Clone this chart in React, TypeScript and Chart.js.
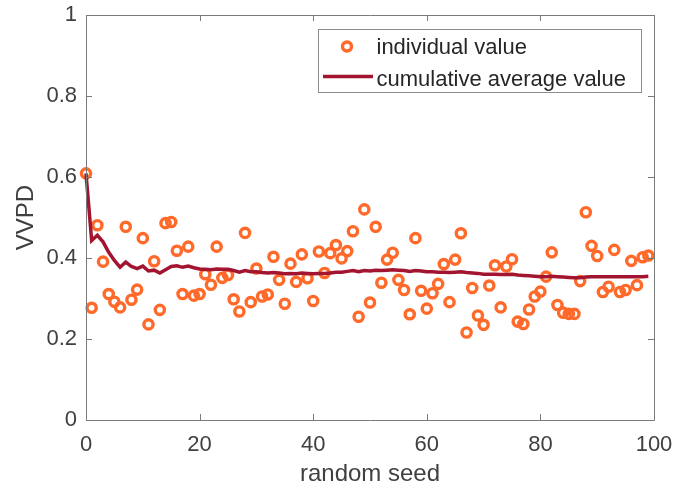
import React, { useEffect, useRef } from "react";
import { Chart, registerables } from "chart.js";

Chart.register(...registerables);

const xTickValues = [0, 20, 40, 60, 80, 100];
const yTickValues = [0, 0.2, 0.4, 0.6, 0.8, 1];
const xTitle = "random seed";
const yTitle = "VVPD";
const legendLabels = ["individual value", "cumulative average value"];

const individualValue = [
  0.609, 0.277, 0.481, 0.391, 0.311, 0.292, 0.278, 0.477, 0.297, 0.322,
  0.449, 0.236, 0.392, 0.272, 0.486, 0.489, 0.418, 0.311, 0.428, 0.307,
  0.311, 0.360, 0.334, 0.428, 0.351, 0.358, 0.298, 0.268, 0.462, 0.291,
  0.374, 0.305, 0.310, 0.403, 0.346, 0.287, 0.386, 0.341, 0.409, 0.350,
  0.294, 0.416, 0.363, 0.412, 0.432, 0.399, 0.417, 0.466, 0.255, 0.520,
  0.290, 0.477, 0.339, 0.396, 0.413, 0.346, 0.321, 0.261, 0.449, 0.319,
  0.275, 0.313, 0.336, 0.385, 0.291, 0.396, 0.461, 0.216, 0.326, 0.258,
  0.235, 0.332, 0.382, 0.278, 0.379, 0.397, 0.243, 0.237, 0.273, 0.305,
  0.317, 0.354, 0.414, 0.284, 0.265, 0.262, 0.262, 0.343, 0.513, 0.430,
  0.405, 0.316, 0.329, 0.420, 0.316, 0.321, 0.393, 0.333, 0.402, 0.406,
];

const cumulativeAverage = [
  0.609, 0.443, 0.456, 0.440, 0.414, 0.394, 0.377, 0.390, 0.379, 0.374,
  0.380, 0.368, 0.370, 0.363, 0.371, 0.379, 0.381, 0.377, 0.380, 0.376,
  0.373, 0.372, 0.371, 0.373, 0.372, 0.372, 0.369, 0.365, 0.369, 0.366,
  0.366, 0.364, 0.363, 0.364, 0.363, 0.361, 0.362, 0.361, 0.363, 0.362,
  0.361, 0.362, 0.362, 0.363, 0.365, 0.365, 0.367, 0.369, 0.366, 0.369,
  0.368, 0.370, 0.369, 0.370, 0.371, 0.370, 0.369, 0.367, 0.369, 0.368,
  0.366, 0.366, 0.365, 0.365, 0.364, 0.365, 0.366, 0.364, 0.363, 0.362,
  0.360, 0.360, 0.360, 0.359, 0.359, 0.360, 0.358, 0.357, 0.356, 0.355,
  0.354, 0.354, 0.355, 0.354, 0.353, 0.352, 0.351, 0.351, 0.353, 0.354,
  0.354, 0.354, 0.354, 0.354, 0.354, 0.354, 0.354, 0.354, 0.354, 0.355,
];

const ORANGE = "#FF6929";
const DARKRED = "#A2142F";
const AXIS = "#7a7a7a";
const TEXT = "#404040";
const FONT = "'Liberation Sans', Arial, Helvetica, sans-serif";

const boxPlugin = {
  id: "matlabBox",
  afterDatasetsDraw(chart: any) {
    const { ctx, chartArea } = chart;
    const { left, right, top, bottom } = chartArea;
    const xs = chart.scales.x;
    const ys = chart.scales.y;
    const tl = 6;
    ctx.save();
    ctx.strokeStyle = AXIS;
    ctx.lineWidth = 1;
    ctx.beginPath();
    ctx.rect(Math.round(left) + 0.5, Math.round(top) + 0.5, Math.round(right - left), Math.round(bottom - top));
    ctx.stroke();
    ctx.beginPath();
    xTickValues.forEach((v) => {
      const px = Math.round(xs.getPixelForValue(v)) + 0.5;
      ctx.moveTo(px, bottom);
      ctx.lineTo(px, bottom - tl);
      ctx.moveTo(px, top);
      ctx.lineTo(px, top + tl);
    });
    yTickValues.forEach((v) => {
      const py = Math.round(ys.getPixelForValue(v)) + 0.5;
      ctx.moveTo(left, py);
      ctx.lineTo(left + tl, py);
      ctx.moveTo(right, py);
      ctx.lineTo(right - tl, py);
    });
    ctx.stroke();

    // legend
    const bx = Math.round(right - 13) + 0.5;
    const bw = 323;
    const by = Math.round(top + 14) + 0.5;
    const bh = 63;
    ctx.fillStyle = "#ffffff";
    ctx.fillRect(bx - bw, by, bw, bh);
    ctx.strokeStyle = "#8c8c8c";
    ctx.lineWidth = 1;
    ctx.strokeRect(bx - bw, by, bw, bh);
    const lx = bx - bw;
    ctx.beginPath();
    ctx.strokeStyle = ORANGE;
    ctx.lineWidth = 3.4;
    ctx.arc(lx + 28.5, by + 17, 4.5, 0, Math.PI * 2);
    ctx.stroke();
    ctx.beginPath();
    ctx.strokeStyle = DARKRED;
    ctx.lineWidth = 3.5;
    ctx.moveTo(lx + 4.5, by + 47);
    ctx.lineTo(lx + 54.5, by + 47);
    ctx.stroke();
    ctx.fillStyle = "#262626";
    ctx.font = `22px ${FONT}`;
    ctx.textAlign = "left";
    ctx.textBaseline = "middle";
    ctx.fillText(legendLabels[0], lx + 58, by + 18);
    ctx.fillText(legendLabels[1], lx + 58, by + 50.5);
    ctx.restore();
  },
};

export default function App() {
  const ref = useRef<HTMLCanvasElement | null>(null);
  useEffect(() => {
    if (!ref.current) return;
    const scatterData = individualValue.map((v, i) => ({ x: i, y: v }));
    const lineData = cumulativeAverage.map((v, i) => ({ x: i, y: v }));
    const chart = new Chart(ref.current, {
      type: "scatter",
      data: {
        datasets: [
          {
            label: legendLabels[0],
            data: scatterData,
            pointRadius: 4.6,
            pointBorderWidth: 3.4,
            pointBorderColor: ORANGE,
            pointBackgroundColor: "rgba(0,0,0,0)",
            pointHoverRadius: 4.6,
            showLine: false,
            clip: false as any,
            order: 1,
          },
          {
            label: legendLabels[1],
            data: lineData,
            showLine: true,
            borderColor: DARKRED,
            borderWidth: 3.5,
            pointRadius: 0,
            pointHoverRadius: 0,
            tension: 0,
            fill: false,
            clip: false as any,
            order: 0,
          },
        ],
      },
      options: {
        responsive: false,
        animation: false,
        events: [],
        layout: { padding: { left: 0, right: 19, top: 15, bottom: 0 } },
        plugins: {
          legend: { display: false },
          tooltip: { enabled: false },
          title: { display: false },
        },
        scales: {
          x: {
            type: "linear",
            min: 0,
            max: 100,
            afterFit: (s: any) => {
              s.height = 71;
              s.paddingLeft = 0;
              s.paddingRight = 0;
            },
            afterBuildTicks: (s: any) => {
              s.ticks = xTickValues.map((v) => ({ value: v }));
            },
            border: { display: false },
            grid: { display: false, drawTicks: false },
            ticks: {
              padding: 12,
              color: TEXT,
              font: { family: FONT, size: 22 },
              maxRotation: 0,
              autoSkip: false,
              callback: (v: any) => String(v),
            },
            title: {
              display: true,
              text: xTitle,
              color: TEXT,
              font: { family: FONT, size: 24 },
              padding: { top: 0, bottom: 2 },
            },
          },
          y: {
            type: "linear",
            min: 0,
            max: 1,
            afterFit: (s: any) => {
              s.width = 86;
              s.paddingTop = 0;
              s.paddingBottom = 0;
            },
            afterBuildTicks: (s: any) => {
              s.ticks = yTickValues.map((v) => ({ value: v }));
            },
            border: { display: false },
            grid: { display: false, drawTicks: false },
            ticks: {
              padding: 9,
              color: TEXT,
              font: { family: FONT, size: 22 },
              autoSkip: false,
              callback: (v: any) => String(Number(Number(v).toFixed(1))),
            },
            title: {
              display: true,
              text: yTitle,
              color: TEXT,
              font: { family: FONT, size: 24 },
              padding: { top: 12, bottom: 0 },
            },
          },
        },
      },
      plugins: [boxPlugin],
    });
    return () => chart.destroy();
  }, []);
  return (
    <div style={{ position: "absolute", left: 0, top: 0, width: 673, height: 491, background: "#fff" }}>
      <canvas ref={ref} width={673} height={491} />
    </div>
  );
}
